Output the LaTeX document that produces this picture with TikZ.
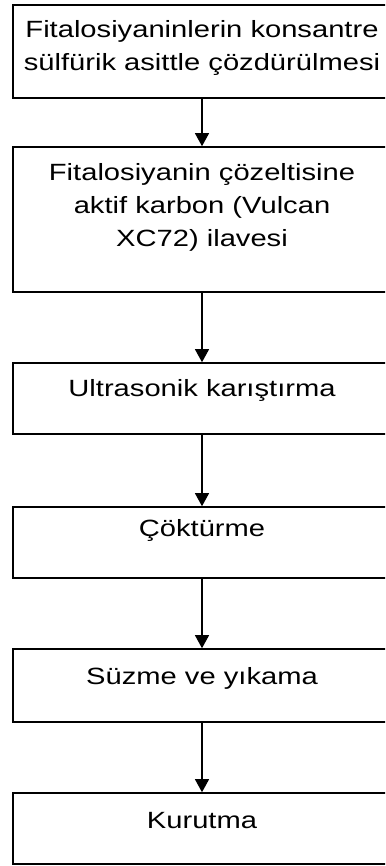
\documentclass[tikz,border=0pt]{standalone}
\usepackage{fontspec}
\setmainfont{Liberation Sans}[FakeStretch=1.24]
\usetikzlibrary{arrows.meta}

\begin{document}
\begin{tikzpicture}[x=1pt, y=-1pt, >={Triangle[length=13pt,width=14pt]},
    stepbox/.style={draw, line width=1.6pt, minimum width=378pt, inner sep=0pt,
        align=center, font=\fontsize{23.5}{33}\selectfont},
    onerow/.style={text height=17pt},
    flow/.style={->, line width=1.2pt}]
    \useasboundingbox (0,0) rectangle (385,866);
    \clip (0,0) rectangle (385,866);

    \node[stepbox, minimum height=93pt, text depth=13pt] (dissolve) at (202,51.5)
        {Fitalosiyaninlerin konsantre\\sülfürik asittle çözdürülmesi};
    \node[stepbox, minimum height=145pt, text depth=30pt] (carbon) at (202,219.5)
        {Fitalosiyanin çözeltisine\\aktif karbon (Vulcan\\XC72) ilavesi};
    \node[stepbox, onerow, minimum height=71pt, text depth=22pt] (mixing) at (202,398.5)
        {Ultrasonik karıştırma};
    \node[stepbox, onerow, minimum height=71pt, text depth=30pt] (precip) at (202,542.5)
        {Çöktürme};
    \node[stepbox, onerow, minimum height=73pt, text depth=19pt] (filter) at (202,685.5)
        {Süzme ve yıkama};
    \node[stepbox, onerow, minimum height=71pt, text depth=17pt] (drying) at (202,828.5)
        {Kurutma};

    \draw[flow] (dissolve) -- (carbon);
    \draw[flow] (carbon) -- (mixing);
    \draw[flow] (mixing) -- (precip);
    \draw[flow] (precip) -- (filter);
    \draw[flow] (filter) -- (drying);
\end{tikzpicture}
\end{document}
